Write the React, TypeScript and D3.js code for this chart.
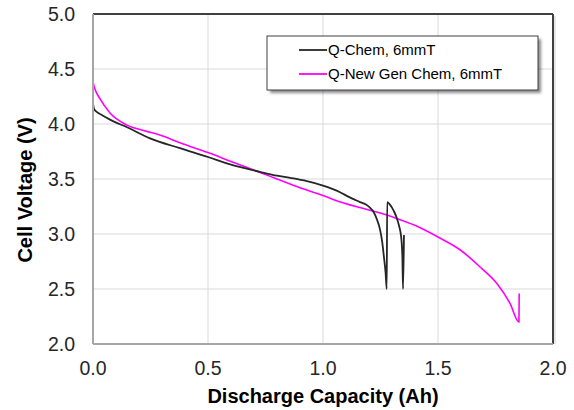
import React from "react";
import * as d3 from "d3";

const xTicks = [0, 0.5, 1.0, 1.5, 2.0];
const yTicks = [2.0, 2.5, 3.0, 3.5, 4.0, 4.5, 5.0];

const chemQ = [0, 0.004, 0.016, 0.04, 0.074, 0.148, 0.248, 0.378, 0.5, 0.6, 0.726, 0.8, 0.857, 0.93, 1.0, 1.04, 1.074, 1.11, 1.14, 1.161, 1.185, 1.204, 1.22, 1.235, 1.248, 1.258, 1.265, 1.272, 1.277, 1.279, 1.29, 1.3, 1.31, 1.32, 1.33, 1.34, 1.345, 1.348, 1.352];
const chemV = [4.19, 4.14, 4.11, 4.08, 4.04, 3.97, 3.87, 3.78, 3.70, 3.63, 3.565, 3.53, 3.51, 3.48, 3.44, 3.41, 3.38, 3.34, 3.31, 3.29, 3.27, 3.24, 3.2, 3.13, 3.04, 2.92, 2.79, 2.65, 2.5, 3.29, 3.27, 3.24, 3.2, 3.15, 3.08, 2.97, 2.8, 2.5, 2.99];

const newQ = [0, 0.008, 0.03, 0.074, 0.148, 0.22, 0.29, 0.378, 0.5, 0.6, 0.726, 0.8, 0.9, 1.0, 1.05, 1.16, 1.25, 1.335, 1.42, 1.52, 1.6, 1.683, 1.756, 1.813, 1.852, 1.853];
const newV = [4.38, 4.32, 4.23, 4.1, 3.99, 3.94, 3.9, 3.83, 3.74, 3.66, 3.56, 3.5, 3.42, 3.35, 3.31, 3.24, 3.19, 3.13, 3.06, 2.95, 2.85, 2.70, 2.55, 2.37, 2.2, 2.46];

const seriesNames = ["Q-Chem, 6mmT", "Q-New Gen Chem, 6mmT"];
const seriesColors = ["#262626", "#ff00ff"];

const W = 574, H = 410;
const L = 93, R = 553, T = 14, B = 344;

export default function App() {
  const x = d3.scaleLinear().domain([0, 2]).range([L, R]);
  const y = d3.scaleLinear().domain([2, 5]).range([B, T]);
  const line = d3.line<[number, number]>().x(d => x(d[0])).y(d => y(d[1])).curve(d3.curveMonotoneX);
  const chem: [number, number][] = chemQ.map((q, i) => [q, chemV[i]]);
  const ng: [number, number][] = newQ.map((q, i) => [q, newV[i]]);
  const font = "'Liberation Sans', Arial, sans-serif";
  const lx = 267, ly = 36, lw = 271, lh = 54;
  return (
    <div style={{ position: "absolute", left: 0, top: 0 }}>
      <svg width={W} height={H} style={{ display: "block", background: "#fff" }} fontFamily={font}>
        <defs>
          <filter id="sh" x="-10%" y="-20%" width="130%" height="160%">
            <feGaussianBlur stdDeviation="1.5" />
          </filter>
          <clipPath id="clip"><rect x={L} y={T} width={R - L} height={B - T} /></clipPath>
        </defs>
        {xTicks.slice(1, -1).map(t => (
          <line key={"gx" + t} x1={x(t)} x2={x(t)} y1={T} y2={B} stroke="#d9d9d9" strokeWidth={1} />
        ))}
        {yTicks.slice(1, -1).map(t => (
          <line key={"gy" + t} x1={L} x2={R} y1={y(t)} y2={y(t)} stroke="#d9d9d9" strokeWidth={1} />
        ))}
        <g clipPath="url(#clip)">
          <path d={line(ng) || ""} fill="none" stroke={seriesColors[1]} strokeWidth={1.6} />
          <path d={line(chem) || ""} fill="none" stroke={seriesColors[0]} strokeWidth={1.8} strokeLinejoin="round" />
        </g>
        <line x1={L} x2={R} y1={T} y2={T} stroke="#404040" strokeWidth={2} />
        <line x1={R} x2={R} y1={T} y2={B} stroke="#404040" strokeWidth={2} />
        <line x1={R + 2} x2={R + 2} y1={T + 2} y2={B} stroke="#cfcfcf" strokeWidth={1} />
        <line x1={L} x2={R} y1={B} y2={B} stroke="#a6a6a6" strokeWidth={2} />
        <line x1={L} x2={L} y1={T} y2={B} stroke="#a6a6a6" strokeWidth={2} />
        {yTicks.map(t => (
          <text key={"yt" + t} x={75} y={y(t)} dy="0.35em" textAnchor="end" fontSize={19.5} fill="#262626">{t.toFixed(1)}</text>
        ))}
        {xTicks.map(t => (
          <text key={"xt" + t} x={x(t)} y={375} textAnchor="middle" fontSize={19.5} fill="#262626">{t.toFixed(1)}</text>
        ))}
        <text x={(L + R) / 2} y={403} textAnchor="middle" fontSize={20} fontWeight="bold" fill="#000">Discharge Capacity (Ah)</text>
        <text transform={`translate(32,190) rotate(-90)`} textAnchor="middle" fontSize={20} fontWeight="bold" fill="#000">Cell Voltage (V)</text>
        <rect x={lx + 3} y={ly + 3} width={lw} height={lh} fill="#000" opacity={0.45} filter="url(#sh)" />
        <rect x={lx} y={ly} width={lw} height={lh} fill="#fff" stroke="#404040" strokeWidth={1} />
        {seriesNames.map((n, i) => (
          <g key={n}>
            <line x1={299} x2={327} y1={ly + 14 + i * 24} y2={ly + 14 + i * 24} stroke={seriesColors[i]} strokeWidth={1.8} />
            <text x={328} y={ly + 14 + i * 24} dy="0.35em" fontSize={15} fill="#000">{n}</text>
          </g>
        ))}
      </svg>
    </div>
  );
}
